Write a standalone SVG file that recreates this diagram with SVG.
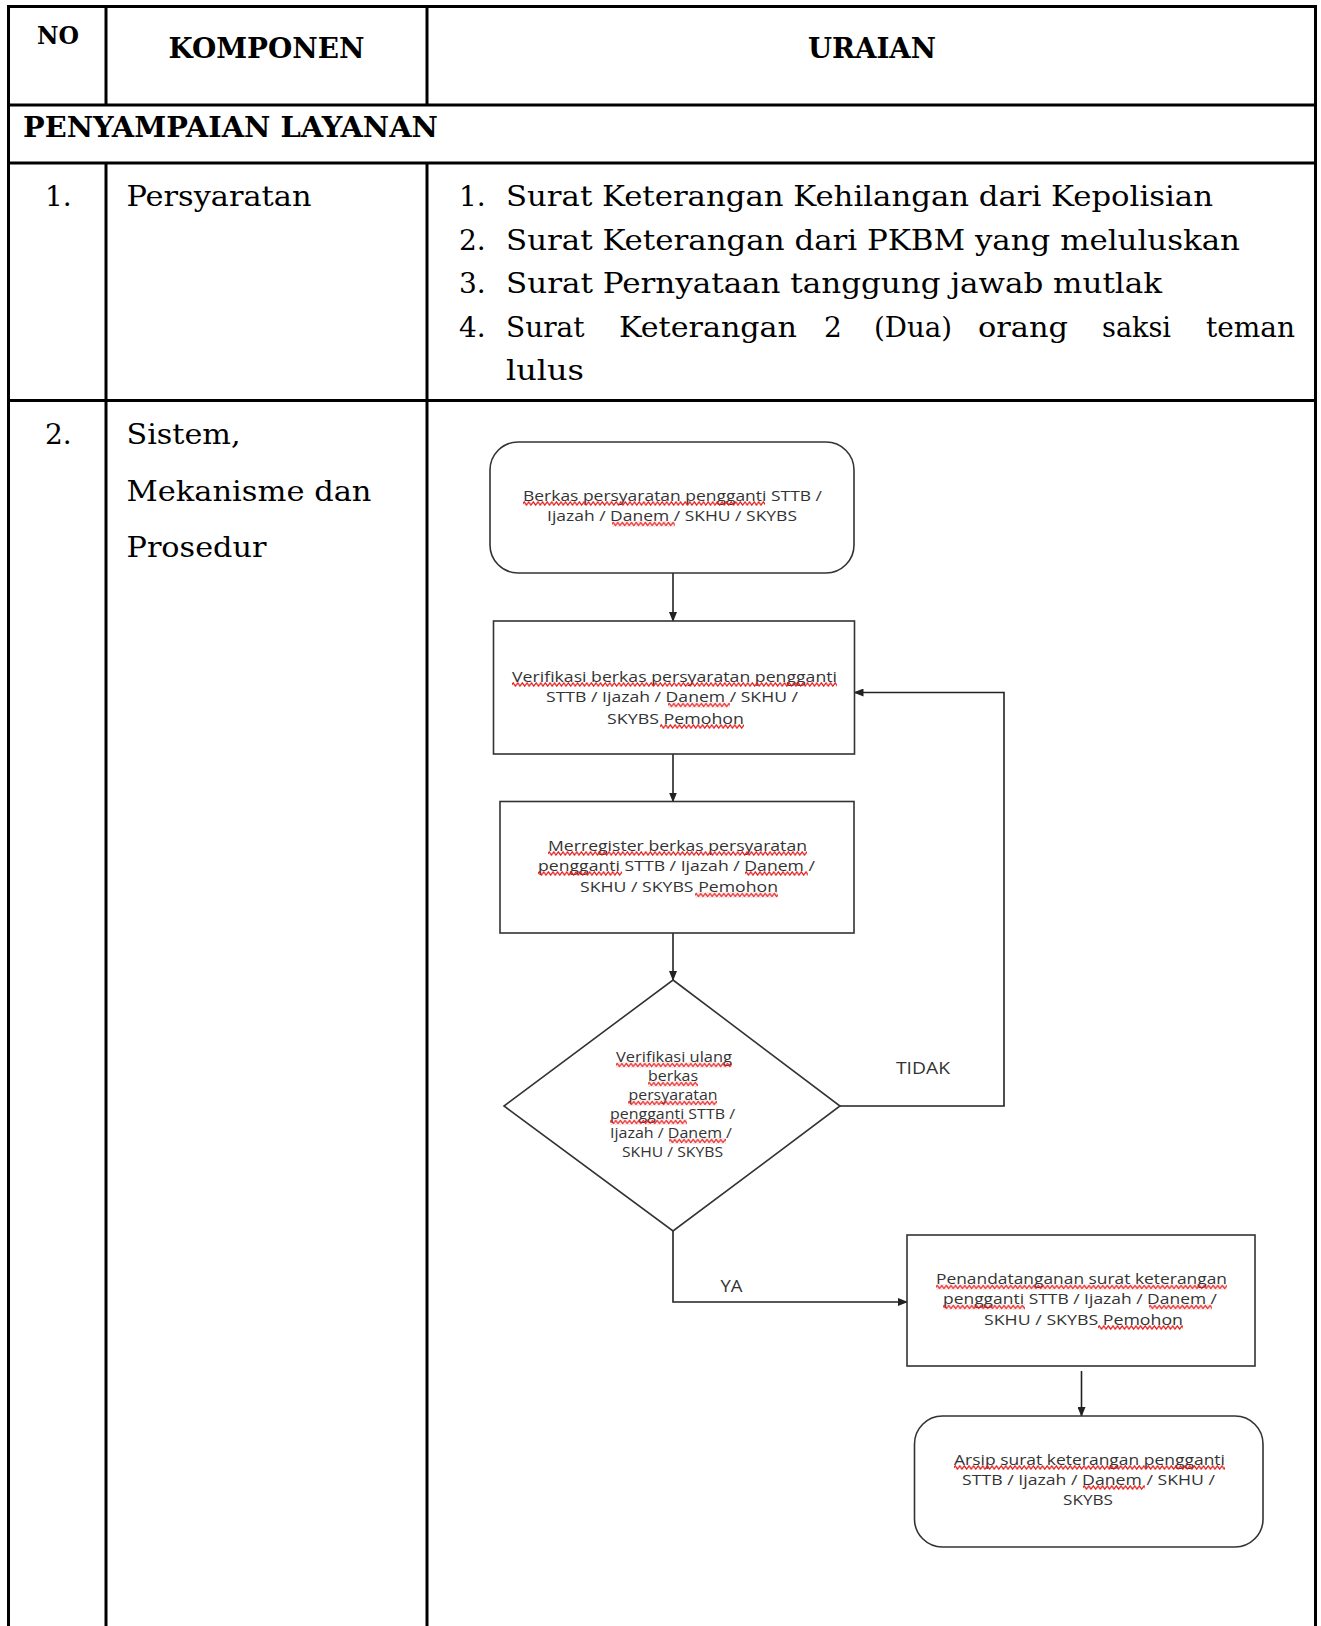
<svg xmlns="http://www.w3.org/2000/svg" width="1321" height="1626" viewBox="0 0 1321 1626">
<style>
.tbl{stroke:#000;stroke-width:3;fill:none}
.hd{font-family:"DejaVu Serif",serif;font-weight:bold;fill:#000}
.bd{font-family:"DejaVu Serif",serif;font-size:28px;fill:#000}
.box{fill:#fff;stroke:#333;stroke-width:1.6}
.ft{font-family:"Open Sans","Liberation Sans",sans-serif;font-size:15px;fill:#333;text-anchor:middle}
.fd{font-family:"Open Sans","Liberation Sans",sans-serif;font-size:14px;fill:#333;text-anchor:middle}
.lb{font-family:"Open Sans","Liberation Sans",sans-serif;font-size:16px;fill:#333}
.cn{fill:none;stroke:#222;stroke-width:1.6}
.sq{fill:url(#wave)}
</style>
<defs>
<marker id="ah" markerWidth="10" markerHeight="8" refX="9" refY="4" orient="auto" markerUnits="userSpaceOnUse">
<path d="M0,0 L10,4 L0,8 Z" fill="#222"/>
</marker>
<pattern id="wave" patternUnits="userSpaceOnUse" width="4.6" height="5">
<path d="M-1.15,4.2 L1.15,0.8 L3.45,4.2 L5.75,0.8" fill="none" stroke="#e31b1b" stroke-width="1.2"/>
</pattern>
</defs>
<rect width="1321" height="1626" fill="#fff"/>
<g id="table">
<path class="tbl" d="M8.5,5 V1626 M1315.5,5 V1626 M7,6.5 H1317 M7,105 H1317 M7,163 H1317 M7,400.5 H1317 M106,6 V105 M427,6 V105 M106,163 V1626 M427,163 V1626"/>
<text class="hd" x="58" y="44" font-size="23.5" text-anchor="middle">NO</text>
<text class="hd" x="266.5" y="58" font-size="28" text-anchor="middle" textLength="196" lengthAdjust="spacingAndGlyphs">KOMPONEN</text>
<text class="hd" x="872" y="58" font-size="28" text-anchor="middle" textLength="128" lengthAdjust="spacingAndGlyphs">URAIAN</text>
<text class="hd" x="23" y="137" font-size="28" textLength="415" lengthAdjust="spacingAndGlyphs">PENYAMPAIAN LAYANAN</text>
<text class="bd" x="45" y="206">1.</text>
<text class="bd" x="126.5" y="206" textLength="185" lengthAdjust="spacingAndGlyphs">Persyaratan</text>
<text class="bd" x="459" y="206">1.</text>
<text class="bd" x="506" y="206" textLength="707" lengthAdjust="spacingAndGlyphs">Surat Keterangan Kehilangan dari Kepolisian</text>
<text class="bd" x="459" y="249.5">2.</text>
<text class="bd" x="506" y="249.5" textLength="734" lengthAdjust="spacingAndGlyphs">Surat Keterangan dari PKBM yang meluluskan</text>
<text class="bd" x="459" y="293">3.</text>
<text class="bd" x="506" y="293" textLength="656" lengthAdjust="spacingAndGlyphs">Surat Pernyataan tanggung jawab mutlak</text>
<text class="bd" x="459" y="336.5">4.</text>
<text class="bd" x="506" y="336.5">Surat</text>
<text class="bd" x="619" y="336.5" textLength="178" lengthAdjust="spacingAndGlyphs">Keterangan</text>
<text class="bd" x="824" y="336.5">2</text>
<text class="bd" x="874" y="336.5" textLength="78" lengthAdjust="spacingAndGlyphs">(Dua)</text>
<text class="bd" x="978" y="336.5" textLength="90" lengthAdjust="spacingAndGlyphs">orang</text>
<text class="bd" x="1102" y="336.5" textLength="69" lengthAdjust="spacingAndGlyphs">saksi</text>
<text class="bd" x="1206" y="336.5" textLength="89" lengthAdjust="spacingAndGlyphs">teman</text>
<text class="bd" x="506" y="379.5" textLength="78" lengthAdjust="spacingAndGlyphs">lulus</text>
<text class="bd" x="45" y="444">2.</text>
<text class="bd" x="126.5" y="444" textLength="114" lengthAdjust="spacingAndGlyphs">Sistem,</text>
<text class="bd" x="126.5" y="501" textLength="245" lengthAdjust="spacingAndGlyphs">Mekanisme dan</text>
<text class="bd" x="126.5" y="557" textLength="140" lengthAdjust="spacingAndGlyphs">Prosedur</text>
</g>
<g id="connectors">
<path class="cn" d="M673,573 V621" marker-end="url(#ah)"/>
<path class="cn" d="M673,754 V801.5" marker-end="url(#ah)"/>
<path class="cn" d="M673,933 V980" marker-end="url(#ah)"/>
<path class="cn" d="M840,1106 H1004 V692.5 H854.5" marker-end="url(#ah)"/>
<path class="cn" d="M673,1231 V1302 H907" marker-end="url(#ah)"/>
<path class="cn" d="M1081.5,1371 V1416" marker-end="url(#ah)"/>
<text class="lb" x="896" y="1074" textLength="54" lengthAdjust="spacingAndGlyphs">TIDAK</text>
<text class="lb" x="720.5" y="1292" textLength="22" lengthAdjust="spacingAndGlyphs">YA</text>
</g>
<g id="n1">
<rect class="box" x="490" y="442" width="364" height="131" rx="28"/>
<text class="ft" x="672.5" y="500.5" textLength="299" lengthAdjust="spacingAndGlyphs">Berkas persyaratan pengganti STTB /</text>
<text class="ft" x="672" y="521" textLength="250" lengthAdjust="spacingAndGlyphs">Ijazah / Danem / SKHU / SKYBS</text>
<rect class="sq" transform="translate(523,501)" width="242" height="5"/>
<rect class="sq" transform="translate(612,521.5)" width="63" height="5"/>
</g>
<g id="n2">
<rect class="box" x="493.5" y="621" width="361" height="133"/>
<text class="ft" x="674.5" y="681.5" textLength="325" lengthAdjust="spacingAndGlyphs">Verifikasi berkas persyaratan pengganti</text>
<text class="ft" x="672" y="702" textLength="252" lengthAdjust="spacingAndGlyphs">STTB / Ijazah / Danem / SKHU /</text>
<text class="ft" x="675.5" y="723.5" textLength="137" lengthAdjust="spacingAndGlyphs">SKYBS Pemohon</text>
<rect class="sq" transform="translate(512,682)" width="325" height="5"/>
<rect class="sq" transform="translate(668,702.5)" width="62" height="5"/>
<rect class="sq" transform="translate(660,724)" width="84" height="5"/>
</g>
<g id="n3">
<rect class="box" x="500" y="801.5" width="354" height="131.5"/>
<text class="ft" x="677.5" y="850.5" textLength="259" lengthAdjust="spacingAndGlyphs">Merregister berkas persyaratan</text>
<text class="ft" x="676.5" y="870.5" textLength="277" lengthAdjust="spacingAndGlyphs">pengganti STTB / Ijazah / Danem /</text>
<text class="ft" x="679" y="892" textLength="198" lengthAdjust="spacingAndGlyphs">SKHU / SKYBS Pemohon</text>
<rect class="sq" transform="translate(548,851)" width="259" height="5"/>
<rect class="sq" transform="translate(538,871)" width="84" height="5"/>
<rect class="sq" transform="translate(745,871)" width="63" height="5"/>
<rect class="sq" transform="translate(695,892.5)" width="83" height="5"/>
</g>
<g id="n4">
<path class="box" d="M673,980 L840,1106 L673,1231 L504,1106 Z"/>
<text class="fd" x="674" y="1062" textLength="116" lengthAdjust="spacingAndGlyphs">Verifikasi ulang</text>
<text class="fd" x="673" y="1081" textLength="50" lengthAdjust="spacingAndGlyphs">berkas</text>
<text class="fd" x="673" y="1100" textLength="89" lengthAdjust="spacingAndGlyphs">persyaratan</text>
<text class="fd" x="672.5" y="1119" textLength="125" lengthAdjust="spacingAndGlyphs">pengganti STTB /</text>
<text class="fd" x="671" y="1138" textLength="122" lengthAdjust="spacingAndGlyphs">Ijazah / Danem /</text>
<text class="fd" x="672.5" y="1156.5" textLength="101" lengthAdjust="spacingAndGlyphs">SKHU / SKYBS</text>
<rect class="sq" transform="translate(616,1062.5)" width="116" height="5"/>
<rect class="sq" transform="translate(648,1081.5)" width="50" height="5"/>
<rect class="sq" transform="translate(628,1100.5)" width="89" height="5"/>
<rect class="sq" transform="translate(610,1119.5)" width="77" height="5"/>
<rect class="sq" transform="translate(669,1138.5)" width="57" height="5"/>
</g>
<g id="n5">
<rect class="box" x="907" y="1235" width="348" height="131"/>
<text class="ft" x="1081.5" y="1284" textLength="291" lengthAdjust="spacingAndGlyphs">Penandatanganan surat keterangan</text>
<text class="ft" x="1080" y="1304" textLength="274" lengthAdjust="spacingAndGlyphs">pengganti STTB / Ijazah / Danem /</text>
<text class="ft" x="1083.5" y="1324.5" textLength="199" lengthAdjust="spacingAndGlyphs">SKHU / SKYBS Pemohon</text>
<rect class="sq" transform="translate(936,1284.5)" width="291" height="5"/>
<rect class="sq" transform="translate(943,1304.5)" width="82" height="5"/>
<rect class="sq" transform="translate(1149,1304.5)" width="63" height="5"/>
<rect class="sq" transform="translate(1098,1325)" width="85" height="5"/>
</g>
<g id="n6">
<rect class="box" x="914.5" y="1416" width="348.5" height="131" rx="28"/>
<text class="ft" x="1089.5" y="1464.5" textLength="271" lengthAdjust="spacingAndGlyphs">Arsip surat keterangan pengganti</text>
<text class="ft" x="1088.5" y="1484.5" textLength="253" lengthAdjust="spacingAndGlyphs">STTB / Ijazah / Danem / SKHU /</text>
<text class="ft" x="1088" y="1504.5" textLength="50" lengthAdjust="spacingAndGlyphs">SKYBS</text>
<rect class="sq" transform="translate(954,1465)" width="271" height="5"/>
<rect class="sq" transform="translate(1083,1485)" width="62" height="5"/>
</g>
</svg>
